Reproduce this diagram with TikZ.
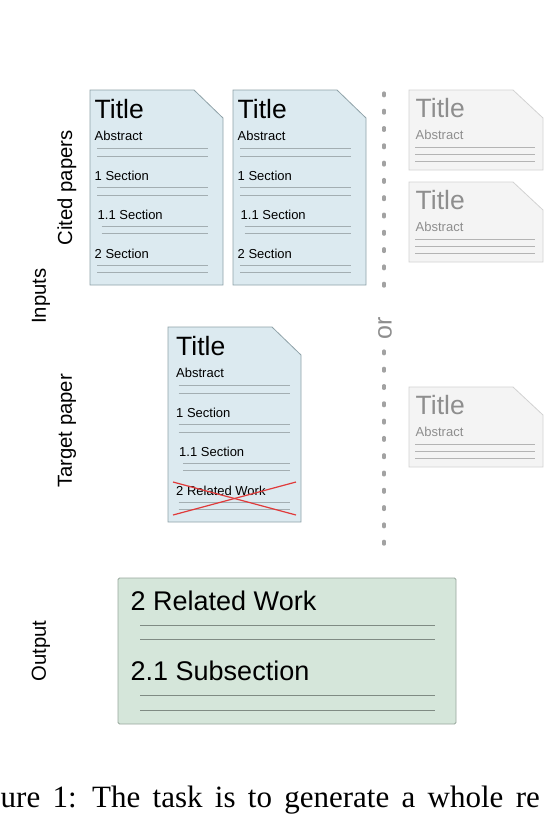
\documentclass[tikz,border=0pt]{standalone}
\usepackage{fontspec}
\setmainfont{Liberation Sans}
\newfontfamily\capfont{Liberation Serif}
\definecolor{pfill}{HTML}{DCEAF0}
\definecolor{pdraw}{HTML}{8FA2A8}
\definecolor{pline}{HTML}{A3AEB2}
\definecolor{gfill}{HTML}{F4F4F4}
\definecolor{gdraw}{HTML}{D2D2D2}
\definecolor{gtext}{HTML}{8E8E8E}
\definecolor{gline}{HTML}{B4B4B4}
\definecolor{ofill}{HTML}{D5E6DA}
\definecolor{odraw}{HTML}{97A79C}
\definecolor{oline}{HTML}{7F8B83}
\definecolor{xred}{HTML}{E03A3A}
\definecolor{dotc}{HTML}{A2A2A2}
\newcommand\bluepaper[5]{% prefix, x, y, last section, inner shift
  \draw[bluepaperst] (#2,#3) -- ++(104,0) -- ++(29,28) -- ++(0,167) -- ++(-133,0) -- cycle;
  \node[ptitle] (#1-title) at (#2+4.5+#5,#3+28) {Title};
  \node[psmall] (#1-abs) at (#2+4.5+#5,#3+50) {Abstract};
  \draw[plinest] (#2+7+#5,#3+58) -- (#2+118+#5,#3+58);
  \draw[plinest] (#2+7+#5,#3+66) -- (#2+118+#5,#3+66);
  \node[psmall] (#1-s1) at (#2+4.5+#5,#3+90) {1 Section};
  \draw[plinest] (#2+7+#5,#3+97.5) -- (#2+118+#5,#3+97.5);
  \draw[plinest] (#2+7+#5,#3+105) -- (#2+118+#5,#3+105);
  \node[psmall] (#1-s11) at (#2+7.5+#5,#3+129) {1.1 Section};
  \draw[plinest] (#2+11.5+#5,#3+136) -- (#2+118+#5,#3+136);
  \draw[plinest] (#2+11.5+#5,#3+143.5) -- (#2+118+#5,#3+143.5);
  \node[psmall] (#1-s2) at (#2+4.5+#5,#3+168) {#4};
  \draw[plinest] (#2+7+#5,#3+175) -- (#2+118+#5,#3+175);
  \draw[plinest] (#2+7+#5,#3+182.5) -- (#2+118+#5,#3+182.5);
}
\newcommand\graypaper[3]{% prefix, x, y
  \draw[graypaperst] (#2,#3) -- ++(104,0) -- ++(30,28) -- ++(0,52) -- ++(-134,0) -- cycle;
  \node[ptitle,text=gtext] (#1-title) at (#2+6.5,#3+27.5) {Title};
  \node[psmall,text=gtext] (#1-abs) at (#2+6.5,#3+49.5) {Abstract};
  \draw[glinest] (#2+6,#3+57) -- (#2+126,#3+57);
  \draw[glinest] (#2+6,#3+64) -- (#2+126,#3+64);
  \draw[glinest] (#2+6,#3+71) -- (#2+126,#3+71);
}
\begin{document}
\begin{tikzpicture}[x=1pt,y=-1pt,
  bluepaperst/.style={fill=pfill,draw=pdraw,line width=0.8pt},
  graypaperst/.style={fill=gfill,draw=gdraw,line width=0.8pt},
  plinest/.style={draw=pline,line width=0.8pt},
  glinest/.style={draw=gline,line width=0.9pt},
  olinest/.style={draw=oline,line width=1pt},
  ptitle/.style={inner sep=0pt,anchor=base west,font=\fontsize{26.5}{26.5}\selectfont},
  psmall/.style={inner sep=0pt,anchor=base west,font=\fontsize{13}{13}\selectfont},
  obig/.style={inner sep=0pt,anchor=base west,font=\fontsize{27}{27}\selectfont},
  lab/.style={inner sep=0pt,rotate=90,font=\fontsize{20.3}{20.3}\selectfont},
  redx/.style={draw=xred,line width=1.2pt},
  dotline/.style={draw=dotc,line width=3.2pt,line cap=round,dash pattern=on 2.8pt off 14.5pt}]
\useasboundingbox (0,0) rectangle (547,815);
% left labels
\node[lab] (cited) at (67,188) {Cited papers};
\node[lab] (inputs) at (41,296) {Inputs};
\node[lab] (target) at (67,431) {Target paper};
\node[lab] (output) at (41,651) {Output};
% cited papers
\bluepaper{c1}{90}{90}{2 Section}{0}
\bluepaper{c2}{233}{90}{2 Section}{0}
% target paper
\bluepaper{tp}{168}{327}{2 Related Work}{3.5}
\draw[redx] (173,482) -- (296,515);
\draw[redx] (173,515) -- (296,482);
% dotted separator
\coordinate (dtop) at (384,93);
\coordinate (dmid1) at (384,300);
\node[lab,text=gtext,font=\fontsize{25}{25}\selectfont] (or) at (385,328.5) {or};
\coordinate (dmid2) at (384,351);
\coordinate (dbot) at (384,553);
\draw[dotline] (dtop) -- (dmid1);
\draw[dotline] (dmid2) -- (dbot);
% gray papers
\graypaper{g1}{409}{90}
\graypaper{g2}{409}{182}
\graypaper{g3}{409}{387}
% output box
\draw[fill=ofill,draw=odraw,line width=0.8pt,rounded corners=1.5pt] (118,578) rectangle (456,724);
\node[obig] (orw) at (130.5,610.5) {2 Related Work};
\draw[olinest] (140,625) -- (435,625);
\draw[olinest] (140,639) -- (435,639);
\node[obig] (osub) at (130.5,680.5) {2.1 Subsection};
\draw[olinest] (140,695.5) -- (435,695.5);
\draw[olinest] (140,710) -- (435,710);
% caption (as cut in the reference)
\node[inner sep=0pt,anchor=base west,font=\capfont\fontsize{31}{31}\selectfont] (cap) at (0.5,807.5)
  {\spaceskip=12.3pt ure 1:\hspace{15.5pt}The task is to generate a whole re};
\end{tikzpicture}
\end{document}
